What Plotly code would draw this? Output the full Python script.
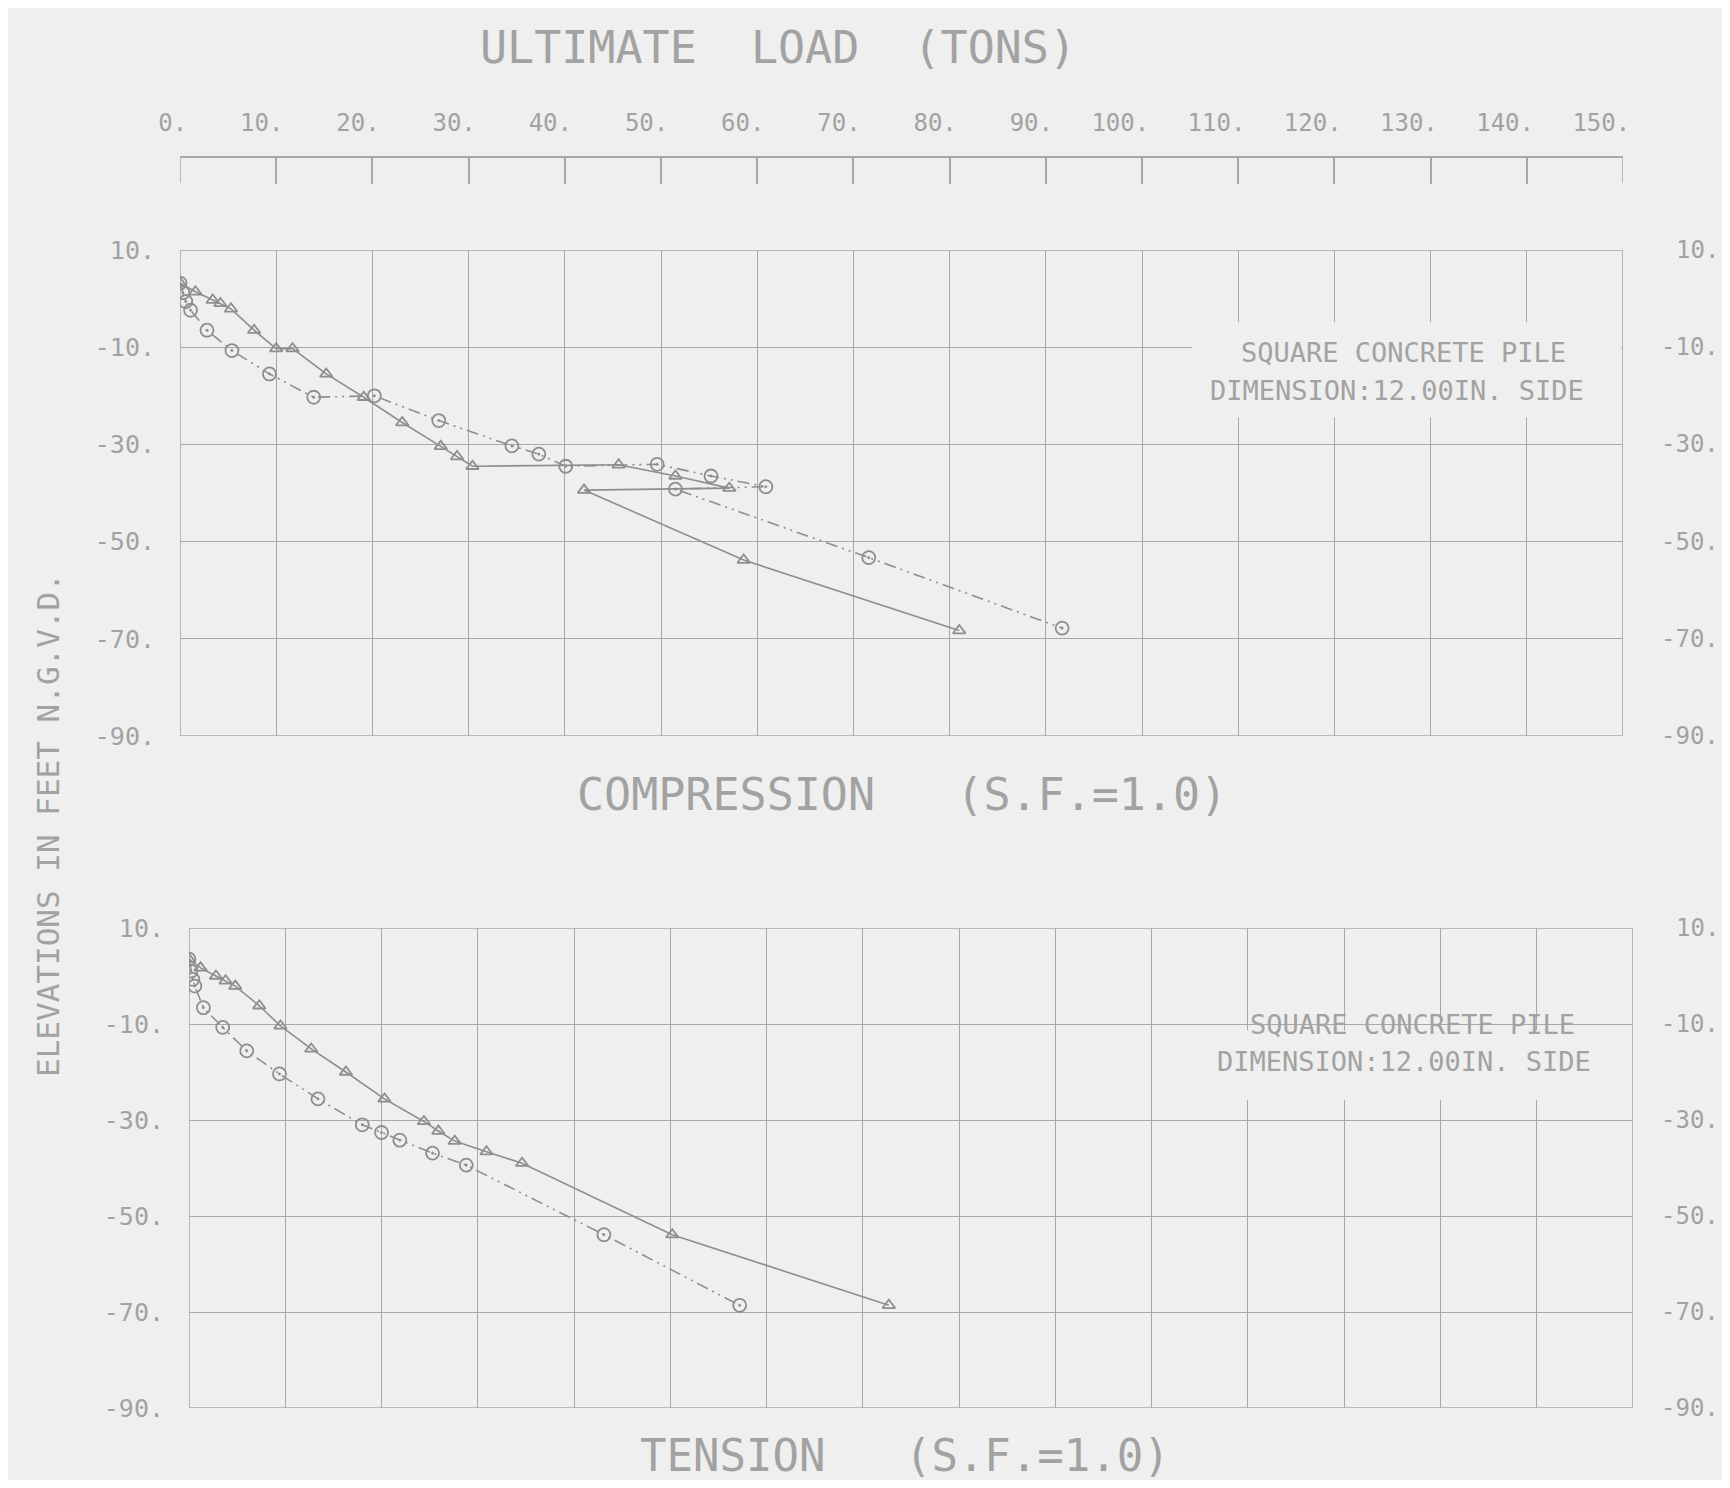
import plotly.graph_objects as go

# ---------------- data ----------------
load_ticks = [0, 10, 20, 30, 40, 50, 60, 70, 80, 90, 100, 110, 120, 130, 140, 150]
load_tick_text = ["0.", "10.", "20.", "30.", "40.", "50.", "60.", "70.", "80.",
                  "90.", "100.", "110.", "120.", "130.", "140.", "150."]
elev_ticks = [10, -10, -30, -50, -70, -90]
elev_tick_text = ["10.", "-10.", "-30.", "-50.", "-70.", "-90."]

# Compression, triangles (solid line)
comp_tri_load = [0.0, 1.6, 3.4, 4.2, 5.3, 7.7, 10.0, 11.7, 15.2, 19.1, 23.1, 27.1,
                 28.8, 30.4, 45.6, 51.5, 57.1, 42.0, 58.6, 81.0]
comp_tri_elev = [3.2, 1.4, -0.3, -1.0, -2.1, -6.5, -10.3, -10.3, -15.5, -20.3, -25.5,
                 -30.4, -32.5, -34.5, -34.2, -36.5, -39.0, -39.4, -53.8, -68.3]
# Compression, circles (dash-dot line)
comp_cir_load = [0.0, 0.3, 0.6, 1.1, 2.8, 5.4, 9.3, 13.9, 20.2, 26.9, 34.5, 37.3,
                 40.1, 49.6, 55.2, 60.9, 51.5, 71.6, 91.7]
comp_cir_elev = [3.2, 1.2, -0.6, -2.4, -6.5, -10.7, -15.5, -20.3, -20.0, -25.1, -30.3,
                 -32.0, -34.5, -34.1, -36.5, -38.7, -39.2, -53.3, -67.8]

# Tension, triangles (solid line)
tens_tri_load = [0.0, 1.2, 2.8, 3.8, 4.8, 7.3, 9.5, 12.7, 16.3, 20.3, 24.4, 25.9,
                 27.6, 30.9, 34.6, 50.2, 72.7]
tens_tri_elev = [3.5, 1.7, 0.0, -1.0, -2.1, -6.2, -10.4, -15.2, -20.0, -25.6, -30.3,
                 -32.3, -34.4, -36.6, -39.0, -53.9, -68.6]
# Tension, circles (dash-dot line)
tens_cir_load = [0.0, 0.2, 0.4, 0.6, 1.5, 3.5, 6.0, 9.4, 13.4, 18.0, 20.0, 21.9,
                 25.3, 28.8, 43.1, 57.2]
tens_cir_elev = [3.5, 1.0, -0.7, -2.1, -6.6, -10.7, -15.6, -20.4, -25.6, -31.0, -32.6,
                 -34.2, -36.9, -39.4, -53.9, -68.6]

# ---------------- style ----------------
BG = "#efefef"
GRID = "#a8a8a8"
INK = "#8e8e8e"
TXT = "#a2a2a2"
FONT = "DejaVu Sans Mono"
DASHDOT = "12px,5px,2px,5px,2px,5px"
NBSP = "\u00a0"

# page has an 8px body margin all round; size the figure to fit the window
OFF = 8
W, H = 1730 - 2 * OFF, 1488 - 2 * OFF

def px(x):
    return (x - OFF) / W

def py(y):
    return (H - (y - OFF)) / H

fig = go.Figure()

def add_pair(tl, te, cl, ce, xa, ya):
    fig.add_trace(go.Scatter(
        x=tl, y=te, mode="lines+markers", xaxis=xa, yaxis=ya,
        line=dict(color=INK, width=1.6),
        marker=dict(symbol="triangle-up-open", size=11, color=INK, line=dict(width=1.8)),
        showlegend=False, hoverinfo="skip"))
    fig.add_trace(go.Scatter(
        x=cl, y=ce, mode="lines+markers", xaxis=xa, yaxis=ya,
        line=dict(color=INK, width=1.6, dash=DASHDOT),
        marker=dict(symbol="circle-open-dot", size=13, color=INK, line=dict(width=1.8)),
        showlegend=False, hoverinfo="skip"))

add_pair(comp_tri_load, comp_tri_elev, comp_cir_load, comp_cir_elev, "x", "y")
add_pair(tens_tri_load, tens_tri_elev, tens_cir_load, tens_cir_elev, "x2", "y2")

top_x = [px(180), px(1623)]
top_y = [py(736), py(250)]
bot_x = [px(189), px(1633)]
bot_y = [py(1408), py(928)]
RULER = py(157)

# ruler labels sit to the left of their tick (plotter style): pad with spaces
ruler_text = [t + NBSP * (len(t) - 1) for t in load_tick_text]

axis_common = dict(range=[0, 150], showgrid=True, gridcolor=GRID, gridwidth=1.4,
                   zeroline=False, tickvals=load_ticks, fixedrange=True, automargin=False)
yaxis_common = dict(range=[-90, 10], showgrid=True, gridcolor=GRID, gridwidth=1.4,
                    zeroline=False, tickvals=elev_ticks, ticktext=elev_tick_text,
                    ticks="", showline=False, ticklabelstandoff=24, automargin=False,
                    fixedrange=True, tickfont=dict(family=FONT, size=25, color=TXT))

fig.update_layout(
    width=W, height=H, autosize=False,
    margin=dict(l=0, r=0, t=0, b=0, autoexpand=False),
    paper_bgcolor=BG, plot_bgcolor=BG,
    xaxis=dict(domain=top_x, side="top", anchor="free", position=RULER,
               showline=True, linecolor=GRID, linewidth=1.5,
               ticks="inside", ticklen=26, tickwidth=1.5, tickcolor=GRID,
               ticktext=ruler_text, ticklabelstandoff=16, tickangle=0,
               tickfont=dict(family=FONT, size=24, color=TXT), **axis_common),
    yaxis=dict(domain=top_y, anchor="x", **yaxis_common),
    xaxis2=dict(domain=bot_x, anchor="y2", showticklabels=False, ticks="",
                showline=False, **axis_common),
    yaxis2=dict(domain=bot_y, anchor="x2", **yaxis_common),
)

shapes = []
# blank areas behind the pile label (grid interrupted there)
shapes.append(dict(type="rect", xref="x", yref="y", x0=105.2, x1=149.8, y0=-24.4, y1=-4.8,
                   fillcolor=BG, line=dict(width=0), layer="between"))
shapes.append(dict(type="rect", xref="x2", yref="y2", x0=105.3, x1=149.8, y0=-25.8, y1=-11.3,
                   fillcolor=BG, line=dict(width=0), layer="between"))
# plot frames
for xr, yr in (("x", "y"), ("x2", "y2")):
    shapes.append(dict(type="rect", xref=xr, yref=yr, x0=0, x1=150, y0=-90, y1=10,
                       line=dict(color=GRID, width=1.6), fillcolor="rgba(0,0,0,0)",
                       layer="between"))
# end ticks of the top ruler
for v in (load_ticks[0], load_ticks[-1]):
    shapes.append(dict(type="line", xref="x", yref="paper", x0=v, x1=v,
                       y0=RULER, y1=RULER - 26 / H, line=dict(color=GRID, width=1.5)))
fig.update_layout(shapes=shapes)

ann = []
# right-hand elevation labels
for yref in ("y", "y2"):
    for v, t in zip(elev_ticks, elev_tick_text):
        ann.append(dict(x=px(1721), xref="paper", y=v, yref=yref, text=t,
                        xanchor="right", yanchor="middle", showarrow=False,
                        font=dict(family=FONT, size=24, color=TXT)))

def txt(x, y, s, size, angle=0):
    ann.append(dict(x=px(x), y=py(y), xref="paper", yref="paper",
                    text=s, showarrow=False, xanchor="center", yanchor="middle",
                    textangle=angle, font=dict(family=FONT, size=size, color=TXT)))

txt(778, 47, "ULTIMATE  LOAD  (TONS)", 45)
txt(902, 794, "COMPRESSION   (S.F.=1.0)", 45)
txt(905, 1455, "TENSION   (S.F.=1.0)", 44)
txt(48, 825, "ELEVATIONS IN FEET N.G.V.D.", 31, angle=-90)
txt(1403, 352, "SQUARE CONCRETE PILE", 27)
txt(1397, 390, "DIMENSION:12.00IN. SIDE", 27)
txt(1412, 1024, "SQUARE CONCRETE PILE", 27)
txt(1404, 1061, "DIMENSION:12.00IN. SIDE", 27)
fig.update_layout(annotations=ann)

fig.write_html("out.html")
